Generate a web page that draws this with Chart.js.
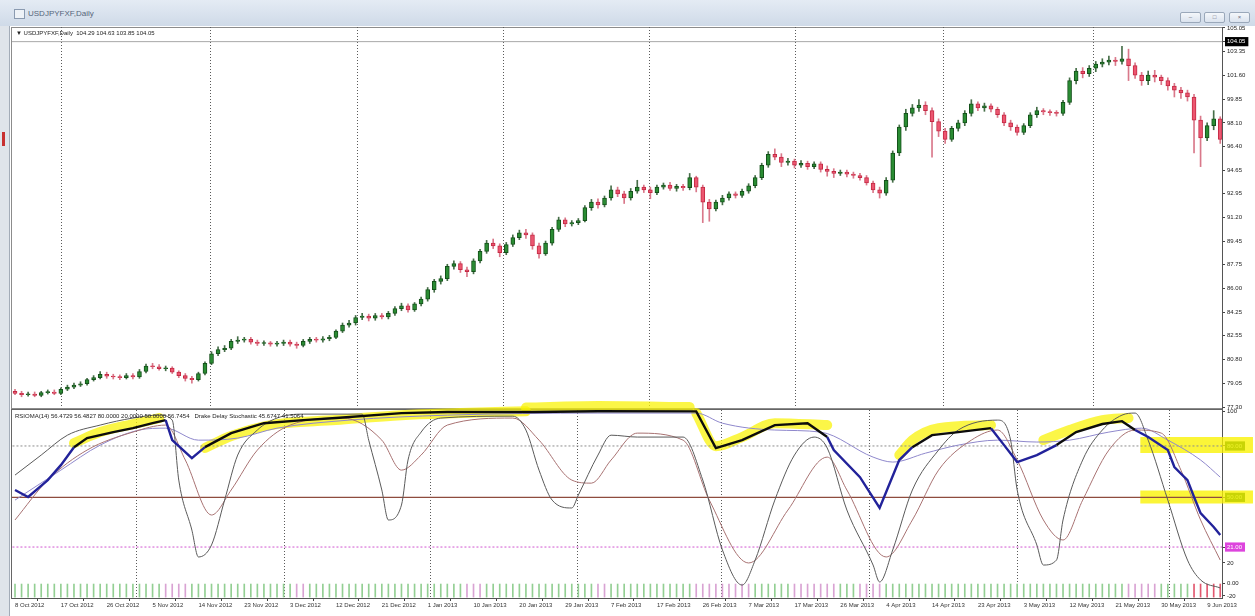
<!DOCTYPE html>
<html>
<head>
<meta charset="utf-8">
<title>USDJPYFXF Daily</title>
<script src="https://cdn.jsdelivr.net/npm/chart.js@4.4.0/dist/chart.umd.min.js"></script>
<style>
  body { margin: 0; width: 1255px; height: 616px; overflow: hidden; background: #fff; position: relative;
         font-family: "Liberation Sans", Arial, sans-serif; }
  #titlebar { position: absolute; left: 0; top: 0; width: 1255px; height: 26px;
              background: linear-gradient(#e4ebf4, #cfdae8); }
  #titlebar .txt { position: absolute; left: 28px; top: 9px; font-size: 8px; color: #56657a; }
  #titlebar .ico { position: absolute; left: 14px; top: 9px; width: 9px; height: 8px; border: 1px solid #8a9ab0; background: #eef2f7; }
  .btn { position: absolute; top: 12px; width: 19px; height: 9px; border: 1px solid #9aa8ba; border-radius: 2px;
         background: linear-gradient(#f4f7fb, #dbe3ee); font-size: 6px; color: #667; text-align: center; line-height: 9px; }
  #leftstrip { position: absolute; left: 0; top: 26px; width: 9px; height: 590px; background: #dfe4ea; border-right: 1px solid #a3acb8; }
  #redmark { position: absolute; left: 2px; top: 132px; width: 3px; height: 14px; background: #c83030; }
  .frame { position: absolute; border: 1px solid #8c8c8c; }
  canvas { position: absolute; }
  .hdr { position: absolute; font-size: 6px; color: #222; white-space: nowrap; z-index: 3; }
</style>
</head>
<body>
<div id="titlebar">
  <div class="ico"></div>
  <div class="txt">USDJPYFXF,Daily</div>
  <div class="btn" style="left:1180px">&ndash;</div>
  <div class="btn" style="left:1204px">&#9633;</div>
  <div class="btn" style="left:1229px">&times;</div>
</div>
<div id="leftstrip"></div>
<div id="redmark"></div>
<div class="frame" style="left:11px; top:27px; width:1210px; height:380px;"></div>
<div class="frame" style="left:11px; top:409px; width:1210px; height:188px; border-color:#666"></div>
<div class="hdr" style="left:16px; top:30px;">&#9660; USDJPYFXF,Daily&nbsp; 104.29 104.63 103.85 104.05</div>
<div class="hdr" style="left:15px; top:413px;">RSIOMA(14) 56.4729 56.4827 80.0000 20.0000 50.0000 56.7454&nbsp;&nbsp; Drake Delay Stochastic 45.6747 41.5064</div>
<canvas id="price" width="1244" height="387" style="left:11px; top:22px;"></canvas>
<canvas id="ind" width="1244" height="218" style="left:11px; top:398px;"></canvas>

<script>
// ---- daily candles, one per bar (bar 0 = 8 Oct 2012) ----
const opens = [78.45,78.30,78.20,78.25,78.15,78.35,78.40,78.30,78.60,78.75,
  78.90,79.00,79.30,79.45,79.70,79.55,79.50,79.45,79.60,79.50,
  79.90,80.30,80.25,80.10,80.15,79.85,79.60,79.40,79.30,79.75,
  80.50,81.20,81.50,81.60,82.10,82.20,82.25,82.05,81.95,82.00,
  81.90,81.95,82.05,81.90,81.80,82.10,82.25,82.20,82.30,82.40,
  82.85,83.30,83.45,83.85,83.95,83.80,84.00,83.90,84.15,84.50,
  84.70,84.40,84.85,85.20,85.90,86.50,86.70,87.60,87.80,87.35,
  87.20,88.00,88.70,89.30,89.10,88.60,89.20,89.70,90.05,89.90,
  89.10,88.50,89.30,90.30,91.00,90.70,90.80,90.95,91.90,92.30,
  92.10,92.60,93.20,92.90,92.60,93.10,93.40,93.20,93.00,93.40,
  93.55,93.30,93.45,93.35,94.10,93.40,92.30,91.80,92.30,92.60,
  92.90,92.80,93.10,93.50,94.10,95.00,95.80,95.60,95.20,95.30,
  95.00,95.15,94.90,95.10,94.70,94.55,94.40,94.50,94.35,94.25,
  94.10,93.70,93.20,92.95,93.90,95.90,97.80,98.80,99.20,99.40,
  99.00,98.20,97.50,96.90,97.70,98.10,98.80,99.50,99.20,99.35,
  99.10,98.70,98.10,97.80,97.40,97.90,98.70,99.00,98.90,98.85,
  98.80,99.60,101.20,101.90,101.70,102.10,102.40,102.55,102.70,102.60,
  102.80,102.30,101.60,101.20,101.60,101.45,101.20,100.80,100.50,100.30,
  100.00,98.30,97.00,97.90,98.40];
const highs = [78.60,78.45,78.40,78.40,78.45,78.55,78.55,78.70,78.90,79.05,
  79.15,79.40,79.60,79.90,79.85,79.70,79.65,79.75,79.75,80.05,
  80.45,80.50,80.40,80.30,80.25,79.95,79.75,79.55,79.85,80.60,
  81.35,81.70,81.80,82.25,82.45,82.40,82.40,82.20,82.15,82.10,
  82.10,82.20,82.20,82.05,82.25,82.40,82.40,82.45,82.55,82.95,
  83.45,83.65,84.00,84.15,84.10,84.15,84.15,84.30,84.65,84.90,
  84.85,84.95,85.35,86.05,86.65,86.90,87.75,88.00,87.95,87.55,
  88.15,88.85,89.50,89.60,89.25,89.35,89.90,90.25,90.30,90.05,
  89.30,89.45,90.45,91.20,91.15,90.95,91.10,92.05,92.50,92.55,
  92.75,93.50,93.40,93.10,93.30,93.90,93.55,93.40,93.55,93.70,
  93.75,93.60,93.60,94.40,94.20,93.55,92.50,92.45,92.80,93.05,
  93.05,93.25,93.65,94.25,95.15,96.00,96.20,95.85,95.50,95.45,
  95.35,95.30,95.25,95.25,94.95,94.75,94.65,94.65,94.50,94.40,
  94.25,93.85,93.40,94.10,96.05,97.95,99.10,99.45,99.80,99.65,
  99.20,98.40,97.70,97.85,98.30,99.00,99.80,99.65,99.55,99.50,
  99.25,98.85,98.30,97.95,98.05,98.85,99.25,99.15,99.05,99.00,
  99.75,101.40,102.10,102.15,102.30,102.60,102.80,103.00,102.90,103.70,
  103.50,102.50,101.80,101.90,101.95,101.60,101.40,101.00,100.70,100.50,
  100.20,98.60,98.10,99.00,98.55];
const lows = [78.20,78.05,78.10,78.05,78.05,78.25,78.20,78.20,78.50,78.65,
  78.80,78.90,79.20,79.35,79.40,79.35,79.30,79.35,79.35,79.40,
  79.80,80.10,80.00,79.95,79.75,79.45,79.20,79.05,79.20,79.65,
  80.40,81.05,81.35,81.50,81.95,82.05,81.90,81.80,81.80,81.75,
  81.75,81.80,81.75,81.60,81.70,81.95,82.05,82.05,82.15,82.30,
  82.75,83.15,83.30,83.70,83.60,83.65,83.75,83.75,84.00,84.35,
  84.25,84.30,84.70,85.05,85.70,86.30,86.55,87.40,87.15,86.85,
  87.05,87.85,88.55,88.90,88.30,88.45,89.05,89.55,89.65,88.85,
  88.20,88.40,89.15,90.15,90.50,90.55,90.65,90.85,91.70,91.85,
  91.95,92.45,92.70,92.20,92.45,92.95,93.00,92.55,92.85,93.25,
  93.15,93.10,93.15,93.20,93.05,90.80,90.90,91.65,92.10,92.45,
  92.60,92.65,92.95,93.35,93.95,94.85,95.40,94.90,95.00,94.80,
  94.85,94.70,94.75,94.50,94.20,94.10,94.25,94.15,94.05,93.90,
  93.55,93.00,92.60,92.80,93.75,95.70,97.55,98.60,98.95,98.70,
  95.60,97.10,96.60,96.75,97.50,97.90,98.60,99.00,98.95,98.90,
  98.50,97.90,97.55,97.20,97.25,97.75,98.50,98.70,98.65,98.60,
  98.65,99.45,100.95,101.40,101.50,101.85,102.20,102.35,102.30,102.40,
  101.20,101.35,100.85,100.90,101.10,100.90,100.50,100.00,99.90,99.70,
  95.90,94.90,96.80,97.60,96.60];
const closes = [78.30,78.20,78.25,78.15,78.35,78.40,78.30,78.60,78.75,78.90,
  79.00,79.30,79.45,79.70,79.55,79.50,79.45,79.60,79.50,79.90,
  80.30,80.25,80.10,80.15,79.85,79.60,79.40,79.30,79.75,80.50,
  81.20,81.50,81.60,82.10,82.20,82.25,82.05,81.95,82.00,81.90,
  81.95,82.05,81.90,81.80,82.10,82.25,82.20,82.30,82.40,82.85,
  83.30,83.45,83.85,83.95,83.80,84.00,83.90,84.15,84.50,84.70,
  84.40,84.85,85.20,85.90,86.50,86.70,87.60,87.80,87.35,87.20,
  88.00,88.70,89.30,89.10,88.60,89.20,89.70,90.05,89.90,89.10,
  88.50,89.30,90.30,91.00,90.70,90.80,90.95,91.90,92.30,92.10,
  92.60,93.20,92.90,92.60,93.10,93.40,93.20,93.00,93.40,93.55,
  93.30,93.45,93.35,94.10,93.40,92.30,91.80,92.30,92.60,92.90,
  92.80,93.10,93.50,94.10,95.00,95.80,95.60,95.20,95.30,95.00,
  95.15,94.90,95.10,94.70,94.55,94.40,94.50,94.35,94.25,94.10,
  93.70,93.20,92.95,93.90,95.90,97.80,98.80,99.20,99.40,99.00,
  98.20,97.50,96.90,97.70,98.10,98.80,99.50,99.20,99.35,99.10,
  98.70,98.10,97.80,97.40,97.90,98.70,99.00,98.90,98.85,98.80,
  99.60,101.20,101.90,101.70,102.10,102.40,102.55,102.70,102.60,102.80,
  102.30,101.60,101.20,101.60,101.45,101.20,100.80,100.50,100.30,100.00,
  98.30,97.00,97.90,98.40,96.90];
const bidPrice = 104.05;

// ---- axes ----
const dateLabels = ['8 Oct 2012','17 Oct 2012','26 Oct 2012','5 Nov 2012','14 Nov 2012','23 Nov 2012',
  '3 Dec 2012','12 Dec 2012','21 Dec 2012','1 Jan 2013','10 Jan 2013','20 Jan 2013','29 Jan 2013',
  '7 Feb 2013','17 Feb 2013','26 Feb 2013','7 Mar 2013','17 Mar 2013','26 Mar 2013','4 Apr 2013',
  '14 Apr 2013','23 Apr 2013','3 May 2013','12 May 2013','21 May 2013','30 May 2013','9 Jun 2013'];
const dateBars = [0,7,14,21,28,35,42,49,56,63,70,77,84,91,98,105,112,119,126,133,140,147,154,161,168,175,182];
const monthBreaks = [18.5, 41.2, 63.5, 85.8, 107.9, 130.5, 153.1, 176.3];
const priceTickLabels = ['77.30','79.05','80.80','82.55','84.25','86.00','87.75','89.45','91.20',
  '92.95','94.65','96.40','98.10','99.85','101.60','103.35','105.05'];

// ---- indicator panel (bar index, value) ----
const rsiBars = [0,2,5,7,9,11,15,18,21,23,24,27,29,33,38,44,49,59,66,79,89,104,107,111,116,121,124,125,129,132,
  135,137,140,144,149,151,153,156,159,162,166,169,171,173,176,177,179,180,181,183,184];
const rsiVals = [54.3,50.2,60.1,68.8,79.3,84.6,88.1,90.4,93.3,95.1,83.4,72.9,79.3,87.5,93.3,95.1,96.3,99.2,99.8,99.8,
  100.3,100.2,78.8,83.4,92.2,93.3,85.2,77.6,61.8,43.8,71.8,79.3,86.3,88.1,90.4,80.5,70.6,74.7,80.5,88.1,
  92.8,94.5,89.3,85.2,77.6,67.7,60.1,50.2,40.8,32.7,28.0];
const rsiDark = [0,0,0,0,1,1,1,1,1,0,0,0,1,1,1,1,1,1,1,1,1,1,1,1,1,1,0,0,0,0,0,1,1,1,0,0,0,0,1,1,1,1,0,0,0,0,0,0,0,0,0];
const sigBars = [0,7,13,19,23,28,34,40,51,66,89,104,108,116,123,131,134,139,144,150,156,161,167,172,176,181,184];
const sigVals = [48.4,65.9,80.5,89.3,90.4,83.4,84.6,90.4,95.1,98.0,99.2,99.2,93.3,89.3,88.1,73.5,70.6,75.8,80.5,83.4,
  82.3,83.4,88.1,90.4,83.4,71.8,61.8];
const kBars = [0,4,8,13,18,22,24,25,27,28,30,32,34,37,40,44,53,54,56,57,59,60,62,65,76,78,80,82,85,86,89,91,95,102,
  105,108,111,113,116,119,122,124,127,131,132,134,137,141,144,150,152,153,156,157,159,160,163,166,169,171,173,176,179,181,184];
const kVals = [63.0,74.7,86.3,92.2,96.3,98.0,95.1,60.1,30.9,15.2,22.2,48.4,74.7,89.3,96.3,98.6,98.6,83.4,54.3,36.8,45.5,
  71.8,88.1,96.3,97.4,89.3,65.9,48.4,43.8,51.3,74.7,86.3,85.2,85.2,60.1,19.3,-1.2,13.4,48.4,74.7,85.2,78.8,42.6,10.5,
  0.6,19.3,54.3,77.6,89.3,95.1,83.4,54.3,22.2,10.5,13.4,36.8,71.8,89.3,98.0,99.2,83.4,48.4,13.4,1.8,-2.9];
const dBars = [0,5,11,18,23,26,30,33,37,42,50,56,59,62,66,76,80,85,88,91,95,102,106,112,118,124,127,133,137,141,146,150,
  153,157,160,163,167,171,175,178,181,184];
const dVals = [36.8,60.1,77.6,88.1,92.2,71.8,39.7,54.3,77.6,92.2,96.3,83.4,65.9,74.7,92.2,96.3,83.4,60.1,58.3,71.8,87.5,
  83.4,48.4,11.7,42.6,73.5,54.3,15.2,36.8,65.9,83.4,89.3,71.8,36.8,25.1,48.4,77.6,89.3,87.5,65.9,36.8,13.4];
const levels = [80, 50, 21];
const indTickVals = [100, 80, 50, 21, 11.7, 0, -7.5];
const indTickLabels = ['100', '80.00', '50.00', '21.00', '20', '0.00', '-20'];
// histogram sign per bar, run-length: [state, bar count]
const histRuns = [['g',23],['p',4],['g',16],['p',2],['g',24],['p',3],['g',17],['p',2],['g',13],['p',9],
  ['g',6],['p',7],['g',3],['p',4],['g',37],['p',5],['g',5],['r',5]];
// yellow highlighter marks drawn on the picture
const hlStrokes = [
  [[9,81.7],[13,88.1],[18,92.8],[22,96.3]],
  [[29,78.8],[33,85.8],[39,92.2],[49,95.1],[59,98.0],[68,99.2],[78,100.3]],
  [[78,102.4],[89,103.3],[103,102.7]],
  [[104,99.2],[107,79.9],[111,85.2],[116,93.3],[124,92.2]],
  [[135,74.7],[137,83.4],[141,90.4],[149,92.2]],
  [[157,83.4],[161,89.3],[166,95.1],[170,96.3]]
];
const hlBoxLevels = [80.5, 50.2];

// ---- shared geometry of both panels ----
const xMin = -0.46, xMax = 184.27;
const priceMin = 77.227, priceMax = 105.123;
const indMin = -8.75, indMax = 101;
const tinyFont = { family: 'Liberation Sans', size: 6 };

function noPad(s) { s.paddingLeft = 0; s.paddingRight = 0; s.paddingTop = 0; s.paddingBottom = 0; }
const pts = (xs, ys) => xs.map((x, i) => ({ x: x, y: ys[i] }));

// ---- price chart ----
const upCandle = closes.map((c, i) => c >= opens[i]);
const bodies = closes.map((c, i) => ({ x: i, y: [opens[i], c] }));
const wicks = closes.map((c, i) => ({ x: i, y: [lows[i], highs[i]] }));
const priceTicks = priceTickLabels.map(Number).concat([bidPrice]);

new Chart(document.getElementById('price'), {
  type: 'line',
  data: {
    datasets: [
      { type: 'line', data: [{ x: -1, y: bidPrice }, { x: 186, y: bidPrice }], borderColor: '#a8a8a8',
        borderWidth: 1, pointRadius: 0, order: 0 },
      { type: 'bar', data: bodies, grouped: false, barThickness: 4, minBarLength: 1, borderWidth: 1, borderSkipped: false,
        backgroundColor: upCandle.map(u => u ? '#2a8c33' : '#ec5670'),
        borderColor: upCandle.map(u => u ? '#14501a' : '#c42a44'), order: 1 },
      { type: 'bar', data: wicks, grouped: false, barThickness: 1,
        backgroundColor: upCandle.map(u => u ? '#466e48' : '#d9788a'), order: 2 }
    ]
  },
  options: {
    responsive: false, animation: false, devicePixelRatio: 1,
    layout: { padding: { left: 1, top: 5, right: 0, bottom: 1 } },
    plugins: { legend: { display: false }, tooltip: { enabled: false } },
    scales: {
      x: {
        type: 'linear', min: xMin, max: xMax, offset: false,
        afterBuildTicks: s => { s.ticks = monthBreaks.map(v => ({ value: v })); },
        ticks: { display: false },
        grid: { color: '#5a5a5a', drawTicks: false },
        border: { display: false, dash: [1, 2] },
        afterFit: s => { s.height = 0; noPad(s); }
      },
      y: {
        position: 'right', min: priceMin, max: priceMax,
        afterBuildTicks: s => { s.ticks = priceTicks.map(v => ({ value: v })); },
        ticks: {
          autoSkip: false, font: tinyFont, padding: 2,
          color: c => (c.tick && c.tick.value === bidPrice) ? '#ffffff' : '#222',
          callback: v => v === bidPrice ? bidPrice.toFixed(2) : priceTickLabels[priceTicks.indexOf(v)],
          showLabelBackdrop: c => !!(c.tick && c.tick.value === bidPrice),
          backdropColor: '#000', backdropPadding: { top: 1, bottom: 1, left: 2, right: 3 }
        },
        grid: { drawOnChartArea: false, tickLength: 3, color: '#444' },
        border: { color: '#555' },
        afterFit: s => { s.width = 33; noPad(s); }
      }
    }
  }
});

// ---- indicator chart ----
const histStates = [];
histRuns.forEach(([st, n]) => { for (let k = 0; k < n; k++) histStates.push(st); });
const histColor = { g: '#93cf93', p: '#d9a3d3', r: '#e2586f' };
const thinLine = (data, color, order) => ({ type: 'line', data: data, borderColor: color, borderWidth: 1, pointRadius: 0,
  cubicInterpolationMode: 'monotone', order: order });

const indSets = [
  { type: 'line', data: pts(rsiBars, rsiVals), borderWidth: 2.4, pointRadius: 0, borderColor: '#1f1f96',
    segment: { borderColor: c => rsiDark[c.p0DataIndex] ? '#0c0c0c' : '#22229a' }, order: 0 },
  thinLine(pts(kBars, kVals), '#5a5a5a', 1),
  thinLine(pts(dBars, dVals), '#a87272', 2),
  thinLine(pts(sigBars, sigVals), '#8f88cc', 3),
  { type: 'line', data: [{ x: -1, y: levels[0] }, { x: 186, y: levels[0] }], borderColor: '#8c8c8c', borderWidth: 1,
    borderDash: [2, 2], pointRadius: 0, order: 4 },
  { type: 'line', data: [{ x: -1, y: levels[1] }, { x: 186, y: levels[1] }], borderColor: '#8e4c3e', borderWidth: 1.2,
    pointRadius: 0, order: 4 },
  { type: 'line', data: [{ x: -1, y: levels[2] }, { x: 186, y: levels[2] }], borderColor: '#d055d0', borderWidth: 1,
    borderDash: [2, 2], pointRadius: 0, order: 4 },
  { type: 'bar', data: histStates.map((s, i) => ({ x: i, y: [-8.2, -0.6] })), grouped: false, barThickness: 1,
    backgroundColor: histStates.map(s => histColor[s]), order: 5 }
];
hlStrokes.forEach(stroke => indSets.push({
  type: 'line', data: stroke.map(p => ({ x: p[0], y: p[1] })), borderColor: 'rgba(250,242,0,0.72)', borderWidth: 10,
  borderCapStyle: 'round', borderJoinStyle: 'round', cubicInterpolationMode: 'monotone', pointRadius: 0, clip: false, order: 9
}));
hlBoxLevels.forEach((lv, k) => indSets.push({
  type: 'line', data: [{ x: 171.8, y: lv }, { x: 189, y: lv }], borderColor: 'rgba(250,242,0,0.78)',
  borderWidth: k === 0 ? 16 : 13, borderCapStyle: 'butt', pointRadius: 0, clip: false, order: 9
}));

new Chart(document.getElementById('ind'), {
  type: 'line',
  data: { datasets: indSets },
  options: {
    responsive: false, animation: false, devicePixelRatio: 1,
    layout: { padding: { left: 1, top: 12, right: 0, bottom: 0 } },
    plugins: { legend: { display: false }, tooltip: { enabled: false } },
    scales: {
      x: {
        type: 'linear', min: xMin, max: xMax, offset: false,
        afterBuildTicks: s => { s.ticks = dateBars.map(v => ({ value: v })); },
        ticks: { autoSkip: false, maxRotation: 0, align: 'start', font: tinyFont, color: '#333', padding: 1,
                 callback: v => dateLabels[dateBars.indexOf(v)] },
        grid: { drawOnChartArea: false, tickLength: 3, color: '#444' },
        border: { color: '#555' },
        afterFit: s => { s.height = 18; noPad(s); }
      },
      xs: {
        type: 'linear', position: 'bottom', min: xMin, max: xMax, offset: false,
        afterBuildTicks: s => { s.ticks = monthBreaks.map(v => ({ value: v })); },
        ticks: { display: false },
        grid: { color: '#5a5a5a', drawTicks: false },
        border: { display: false, dash: [1, 2] },
        afterFit: s => { s.height = 0; noPad(s); }
      },
      y: {
        position: 'right', min: indMin, max: indMax,
        afterBuildTicks: s => { s.ticks = indTickVals.map(v => ({ value: v })); },
        ticks: {
          autoSkip: false, font: tinyFont, padding: 2,
          callback: v => indTickLabels[indTickVals.indexOf(v)],
          color: c => {
            const v = c.tick && c.tick.value;
            return (v === 80 || v === 50) ? '#bff0b0' : (v === 21 ? '#ffffff' : '#222');
          },
          showLabelBackdrop: c => { const v = c.tick && c.tick.value; return v === 80 || v === 50 || v === 21; },
          backdropColor: c => (c.tick && c.tick.value === 21) ? '#dd44dd' : '#1f6b1f',
          backdropPadding: { top: 1, bottom: 1, left: 2, right: 3 }
        },
        grid: { drawOnChartArea: false, tickLength: 3, color: '#444' },
        border: { color: '#555' },
        afterFit: s => { s.width = 33; noPad(s); }
      }
    }
  }
});
</script>
</body>
</html>
